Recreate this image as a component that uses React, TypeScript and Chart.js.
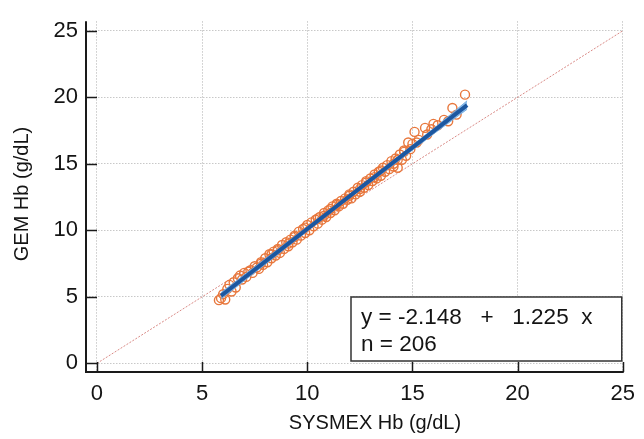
import React, { useEffect, useRef } from "react";
import { Chart, registerables } from "chart.js";

Chart.register(...registerables);

const xTicks = [0, 5, 10, 15, 20, 25];
const yTicks = [0, 5, 10, 15, 20, 25];

const sysmex = [
  5.8, 5.9, 6.1, 6.2, 6.4, 6.5, 6.6, 6.8, 6.9, 7.0, 7.1, 7.3, 7.4, 7.5, 7.7, 7.8, 7.9, 8.0, 8.1, 8.2,
  8.3, 8.4, 8.5, 8.6, 8.7, 8.8, 8.9, 9.0, 9.1, 9.2, 9.3, 9.4, 9.5, 9.6, 9.7, 9.8, 9.9, 10.0, 10.1, 10.2,
  10.3, 10.4, 10.5, 10.6, 10.7, 10.8, 10.9, 11.0, 11.1, 11.2, 11.3, 11.4, 11.5, 11.6, 11.7, 11.8, 11.9, 12.0, 12.1, 12.2,
  12.3, 12.4, 12.5, 12.6, 12.7, 12.8, 12.9, 13.0, 13.1, 13.2, 13.3, 13.4, 13.5, 13.6, 13.7, 13.8, 13.9, 14.0, 14.1, 14.2,
  14.3, 14.4, 14.5, 14.6, 14.7, 14.8, 14.9, 15.0, 15.1, 15.3, 15.6, 15.7, 16.0, 16.2, 16.5, 16.7, 16.9, 17.1, 17.5,
  6.3, 7.2, 7.6, 8.3, 9.4, 9.9, 10.5, 11.1, 12.0, 12.8, 13.5, 14.3, 15.2,
  6.0, 6.7, 7.8, 8.6, 9.1, 10.8, 11.4, 12.5, 13.2, 14.1, 14.6, 15.9
];
const gem = [
  4.75, 4.9, 4.8, 5.6, 5.4, 6.1, 5.7, 6.6, 6.3, 6.8, 6.5, 7.0, 6.8, 7.3, 7.1, 7.6, 7.4, 7.9, 7.6, 8.2,
  7.9, 8.4, 8.1, 8.6, 8.3, 8.9, 8.6, 9.1, 8.8, 9.3, 9.1, 9.6, 9.3, 9.9, 9.6, 10.1, 9.8, 10.4, 10.0, 10.6,
  10.3, 10.8, 10.5, 11.0, 10.8, 11.3, 11.0, 11.5, 11.3, 11.8, 11.5, 12.0, 11.8, 12.2, 12.0, 12.4, 12.3, 12.6, 12.4, 12.9,
  12.7, 13.2, 12.9, 13.4, 13.2, 13.7, 13.4, 13.9, 13.7, 14.2, 13.9, 14.4, 14.1, 14.7, 14.4, 14.9, 14.6, 15.2, 14.8, 15.4,
  14.7, 15.7, 15.3, 16.0, 15.6, 16.6, 16.1, 16.5, 17.4, 16.8, 17.7, 17.2, 18.0, 17.9, 18.3, 18.2, 19.2, 18.7, 20.2,
  5.9, 6.9, 7.2, 8.2, 9.5, 10.2, 10.9, 11.6, 12.7, 13.6, 14.5, 15.3, 16.6,
  5.2, 6.4, 7.5, 8.5, 9.0, 11.1, 11.9, 13.1, 14.0, 15.0, 15.9, 17.6
];

const regX = [5.9, 17.6];
const regY = [5.08, 19.41];
const bandX = [5.9, 8.0, 10.0, 12.0, 14.0, 16.0, 17.6];
const bandUpper = [5.32, 7.86, 10.26, 12.69, 15.15, 17.64, 19.74];
const bandLower = [4.84, 7.44, 9.94, 12.41, 14.81, 17.24, 19.1];
const idX = [0, 25];
const idY = [0, 25];

const xTitle = "SYSMEX Hb (g/dL)";
const yTitle = "GEM Hb (g/dL)";
const equationText = "y = -2.148   +   1.225  x";
const nText = "n = 206";

const FONT = "'Liberation Sans', Arial, Helvetica, sans-serif";
const INK = "#141414";

export default function App() {
  const ref = useRef<HTMLCanvasElement>(null);
  useEffect(() => {
    document.body.style.margin = "0";
    const canvas = ref.current!;
    const decor = {
      id: "decor",
      afterDatasetsDraw(chart: any) {
        const { ctx, chartArea, scales } = chart;
        const xs = scales.x, ys = scales.y;
        ctx.save();
        ctx.strokeStyle = "#1a1a1a";
        ctx.lineWidth = 2;
        ctx.setLineDash([]);
        ctx.beginPath();
        ctx.moveTo(chartArea.left, chartArea.top);
        ctx.lineTo(chartArea.left, chartArea.bottom);
        ctx.lineTo(chartArea.right + 1, chartArea.bottom);
        ctx.stroke();
        ctx.lineWidth = 1.5;
        for (const v of yTicks) {
          const py = Math.round(ys.getPixelForValue(v)) + 0.5;
          ctx.beginPath();
          ctx.moveTo(chartArea.left, py);
          ctx.lineTo(chartArea.left + 11, py);
          ctx.stroke();
        }
        for (const v of xTicks) {
          const px = Math.round(xs.getPixelForValue(v)) + 0.5;
          ctx.beginPath();
          ctx.moveTo(px, chartArea.bottom);
          ctx.lineTo(px, chartArea.bottom - 10);
          ctx.stroke();
        }
        // axis titles
        ctx.fillStyle = INK;
        ctx.font = `20px ${FONT}`;
        ctx.textAlign = "center";
        ctx.textBaseline = "middle";
        ctx.fillText(xTitle, 375, 423);
        ctx.save();
        ctx.translate(22, 194);
        ctx.rotate(-Math.PI / 2);
        ctx.fillText(yTitle, 0, 0);
        ctx.restore();
        // equation box
        const bx = 351;
        const bw = chartArea.right - 1 - bx;
        const by = 297, bh = 64;
        ctx.fillStyle = "#ffffff";
        ctx.fillRect(bx, by, bw, bh);
        ctx.strokeStyle = "#333";
        ctx.lineWidth = 1.5;
        ctx.strokeRect(bx, by, bw, bh);
        ctx.fillStyle = INK;
        ctx.font = `22.5px ${FONT}`;
        ctx.textBaseline = "alphabetic";
        ctx.textAlign = "left";
        ctx.fillText(equationText, bx + 10, by + 27);
        ctx.fillText(nText, bx + 10, by + 54);
        ctx.restore();
      },
    };
    const chart = new Chart(canvas, {
      type: "scatter",
      data: {
        datasets: [
          {
            type: "line",
            data: regX.map((x, i) => ({ x, y: regY[i] })),
            borderColor: "#1c57a0",
            borderWidth: 4,
            pointRadius: 0,
            fill: false,
          } as any,
          {
            type: "line",
            data: bandX.map((x, i) => ({ x, y: bandUpper[i] })),
            borderColor: "rgba(110,170,225,0.9)",
            borderWidth: 1,
            pointRadius: 0,
            backgroundColor: "rgba(110,170,225,0.75)",
            fill: "+1",
          } as any,
          {
            type: "line",
            data: bandX.map((x, i) => ({ x, y: bandLower[i] })),
            borderColor: "rgba(110,170,225,0.9)",
            borderWidth: 1,
            pointRadius: 0,
            fill: false,
          } as any,
          {
            data: sysmex.map((x, i) => ({ x, y: gem[i] })),
            pointStyle: "circle",
            pointRadius: 4.5,
            borderColor: "#e8773c",
            backgroundColor: "rgba(0,0,0,0)",
            borderWidth: 1.4,
          },
          {
            type: "line",
            data: idX.map((x, i) => ({ x, y: idY[i] })),
            borderColor: "#d98a86",
            borderWidth: 1,
            borderDash: [2, 1.5],
            pointRadius: 0,
            fill: false,
          } as any,
        ],
      },
      options: {
        animation: false,
        responsive: false,
        maintainAspectRatio: false,
        layout: { padding: { top: 7, right: 16, left: 0, bottom: 0 } },
        plugins: { legend: { display: false }, tooltip: { enabled: false } },
        scales: {
          x: {
            type: "linear",
            min: -0.52,
            max: 25,
            afterBuildTicks: (s: any) => {
              s.ticks = xTicks.map((v) => ({ value: v }));
            },
            afterFit: (s: any) => {
              s.height = 67;
            },
            grid: { color: "#c8c8c8", lineWidth: 1, drawTicks: false },
            border: { display: false, dash: [1.5, 1.5] },
            ticks: { color: INK, font: { family: FONT, size: 22 }, padding: 9, maxRotation: 0 },
          },
          y: {
            type: "linear",
            min: -0.65,
            max: 25.72,
            afterBuildTicks: (s: any) => {
              s.ticks = yTicks.map((v) => ({ value: v }));
            },
            afterFit: (s: any) => {
              s.width = 86;
            },
            grid: { color: "#c8c8c8", lineWidth: 1, drawTicks: false },
            border: { display: false, dash: [1.5, 1.5] },
            ticks: { color: INK, font: { family: FONT, size: 22 }, padding: 8 },
          },
        },
      } as any,
      plugins: [decor],
    });
    return () => chart.destroy();
  }, []);
  return (
    <div style={{ position: "fixed", left: 0, top: 0, width: 644, height: 439, background: "#fff" }}>
      <canvas ref={ref} width={644} height={439} style={{ width: 644, height: 439 }} />
    </div>
  );
}
